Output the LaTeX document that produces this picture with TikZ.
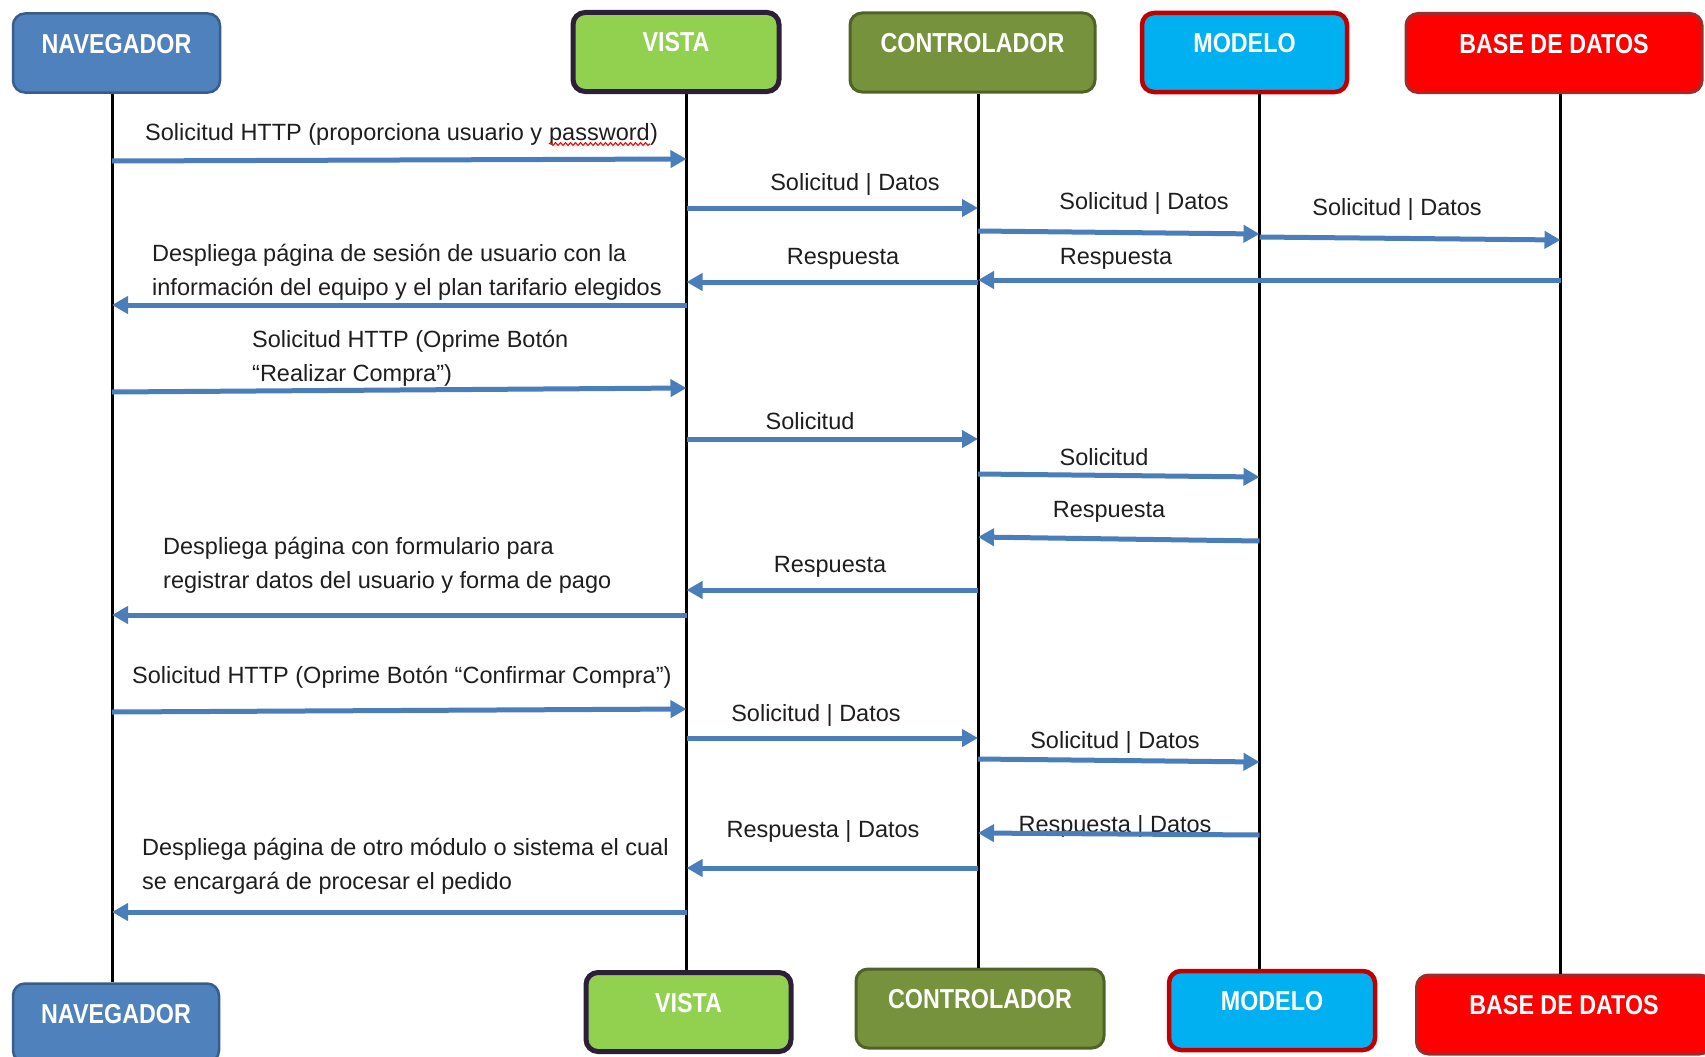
\documentclass[tikz,border=0pt]{standalone}
\usepackage{fontspec}
\setmainfont{Liberation Sans}
\newfontfamily\hdfont[FakeStretch=0.85]{Liberation Sans}
\usetikzlibrary{arrows.meta,decorations.pathmorphing}

\definecolor{navfill}{HTML}{4F81BD}
\definecolor{navdraw}{HTML}{385D8A}
\definecolor{visfill}{HTML}{92D050}
\definecolor{visdraw}{HTML}{2D1E3A}
\definecolor{ctlfill}{HTML}{76923C}
\definecolor{ctldraw}{HTML}{4F6228}
\definecolor{modfill}{HTML}{00B0F0}
\definecolor{moddraw}{HTML}{C00000}
\definecolor{bdfill}{HTML}{FF0000}
\definecolor{bddraw}{HTML}{9B2D2D}
\definecolor{msgblue}{HTML}{4A7EBB}
\definecolor{txt}{HTML}{1E1E1E}

\tikzset{
  actor/.style={rounded corners=12pt, inner sep=0pt, text height=20pt, text depth=20pt,
    minimum height=79pt, text=white,
    font=\hdfont\bfseries\fontsize{27.4pt}{30pt}\selectfont},
  navbox/.style={actor, fill=navfill, draw=navdraw, line width=2.5pt},
  visbox/.style={actor, fill=visfill, draw=visdraw, line width=5pt},
  ctlbox/.style={actor, fill=ctlfill, draw=ctldraw, line width=3pt},
  modbox/.style={actor, fill=modfill, draw=moddraw, line width=4.5pt},
  bdbox/.style={actor, fill=bdfill, draw=bddraw, line width=3pt},
  life/.style={line width=3pt, black},
  msg/.style={line width=5pt, msgblue, -{Triangle[length=16pt,width=17pt]}},
  lbl/.style={inner sep=0pt, text=txt, font=\fontsize{23.5pt}{34pt}\selectfont},
  clbl/.style={lbl, anchor=base},
  llbl/.style={lbl, anchor=base west},
  spell/.style={red, line width=1.1pt, decorate,
    decoration={snake, amplitude=1.4pt, segment length=5pt}}
}

\begin{document}
\begin{tikzpicture}[x=1pt, y=-1pt]
\useasboundingbox (0,0) rectangle (1705,1057);

% participants, top row
\node[navbox, minimum width=207pt] (navT) at (116.5,53)  {NAVEGADOR};
\node[visbox, minimum width=206pt] (visT) at (676,52)    {VISTA};
\node[ctlbox, minimum width=245pt] (ctlT) at (972.5,52.5) {CONTROLADOR};
\node[modbox, minimum width=205pt] (modT) at (1244.5,52.5) {MODELO};
\node[bdbox,  minimum width=296pt] (bdT)  at (1554,53)   {BASE DE DATOS};

% participants, bottom row
\node[navbox, minimum width=206pt] (navB) at (116,1023)   {NAVEGADOR};
\node[visbox, minimum width=205pt] (visB) at (688.5,1012) {VISTA};
\node[ctlbox, minimum width=248pt] (ctlB) at (980,1008.5) {CONTROLADOR};
\node[modbox, minimum width=206pt] (modB) at (1272,1010.5) {MODELO};
\node[bdbox,  minimum width=295pt] (bdB)  at (1564,1014.5) {BASE DE DATOS};

% lifeline positions
\coordinate (Lnav) at (112,0);
\coordinate (Lvis) at (686.5,0);
\coordinate (Lctl) at (978,0);
\coordinate (Lmod) at (1259.5,0);
\coordinate (Lbd)  at (1560.5,0);

\draw[life] (Lnav |- navT.south) -- (Lnav |- navB.north);
\draw[life] (Lvis |- visT.south) -- (Lvis |- visB.north);
\draw[life] (Lctl |- ctlT.south) -- (Lctl |- ctlB.north);
\draw[life] (Lmod |- modT.south) -- (Lmod |- modB.north);
\draw[life] (Lbd  |- bdT.south)  -- (Lbd  |- bdB.north);

% --- login ---
\node[llbl] (m1a) at (145,140) {Solicitud HTTP (proporciona usuario y};
\node[llbl, xshift=6.5pt] (m1b) at (m1a.base east) {password};
\node[llbl] (m1c) at (m1b.base east) {)};
\draw[spell] ([yshift=-4pt]m1b.base west) -- ([yshift=-4pt]m1b.base east);
\draw[msg] (Lnav |- 0,161) -- (Lvis |- 0,159);

\node[clbl] (m2) at (855,190) {Solicitud | Datos};
\draw[msg] (Lvis |- 0,208) -- (Lctl |- 0,208);

\node[clbl] (m3) at (1144,209) {Solicitud | Datos};
\draw[msg] (Lctl |- 0,231) -- (Lmod |- 0,234);

\node[clbl] (m4) at (1397,215) {Solicitud | Datos};
\draw[msg] (Lmod |- 0,237) -- (Lbd |- 0,240);

\node[clbl] (m5) at (1116,264) {Respuesta};
\draw[msg] (Lbd |- 0,280) -- (Lctl |- 0,280);

\node[clbl] (m6) at (843,264) {Respuesta};
\draw[msg] (Lctl |- 0,282) -- (Lvis |- 0,282);

\node[llbl] (m7a) at (152,261) {Despliega página de sesión de usuario con la};
\node[llbl] (m7b) at (152,295) {información del equipo y el plan tarifario elegidos};
\draw[msg] (Lvis |- 0,305) -- (Lnav |- 0,305);

% --- "Realizar Compra" ---
\node[llbl] (m8a) at (252,347) {Solicitud HTTP (Oprime Botón};
\node[llbl] (m8b) at (252,381) {“Realizar Compra”)};
\draw[msg] (Lnav |- 0,392) -- (Lvis |- 0,388);

\node[clbl] (m9) at (810,429) {Solicitud};
\draw[msg] (Lvis |- 0,439) -- (Lctl |- 0,439);

\node[clbl] (m10) at (1104,465) {Solicitud};
\draw[msg] (Lctl |- 0,474) -- (Lmod |- 0,477);

\node[clbl] (m11) at (1109,517) {Respuesta};
\draw[msg] (Lmod |- 0,541) -- (Lctl |- 0,537);

\node[clbl] (m12) at (830,572) {Respuesta};
\draw[msg] (Lctl |- 0,590) -- (Lvis |- 0,590);

\node[llbl] (m13a) at (163,554) {Despliega página con formulario para};
\node[llbl] (m13b) at (163,588) {registrar datos del usuario y forma de pago};
\draw[msg] (Lvis |- 0,615) -- (Lnav |- 0,615);

% --- "Confirmar Compra" ---
\node[llbl] (m14) at (132,683) {Solicitud HTTP (Oprime Botón “Confirmar Compra”)};
\draw[msg] (Lnav |- 0,712) -- (Lvis |- 0,709);

\node[clbl] (m15) at (816,721) {Solicitud | Datos};
\draw[msg] (Lvis |- 0,738) -- (Lctl |- 0,738);

\node[clbl] (m16) at (1115,748) {Solicitud | Datos};
\draw[msg] (Lctl |- 0,759) -- (Lmod |- 0,762);

\node[clbl] (m17) at (1115,832) {Respuesta | Datos};
\draw[msg] (Lmod |- 0,835) -- (Lctl |- 0,833);

\node[clbl] (m18) at (823,837) {Respuesta | Datos};
\draw[msg] (Lctl |- 0,868) -- (Lvis |- 0,868);

\node[llbl] (m19a) at (142,855) {Despliega página de otro módulo o sistema el cual};
\node[llbl] (m19b) at (142,889) {se encargará de procesar el pedido};
\draw[msg] (Lvis |- 0,912) -- (Lnav |- 0,912);
\end{tikzpicture}
\end{document}
